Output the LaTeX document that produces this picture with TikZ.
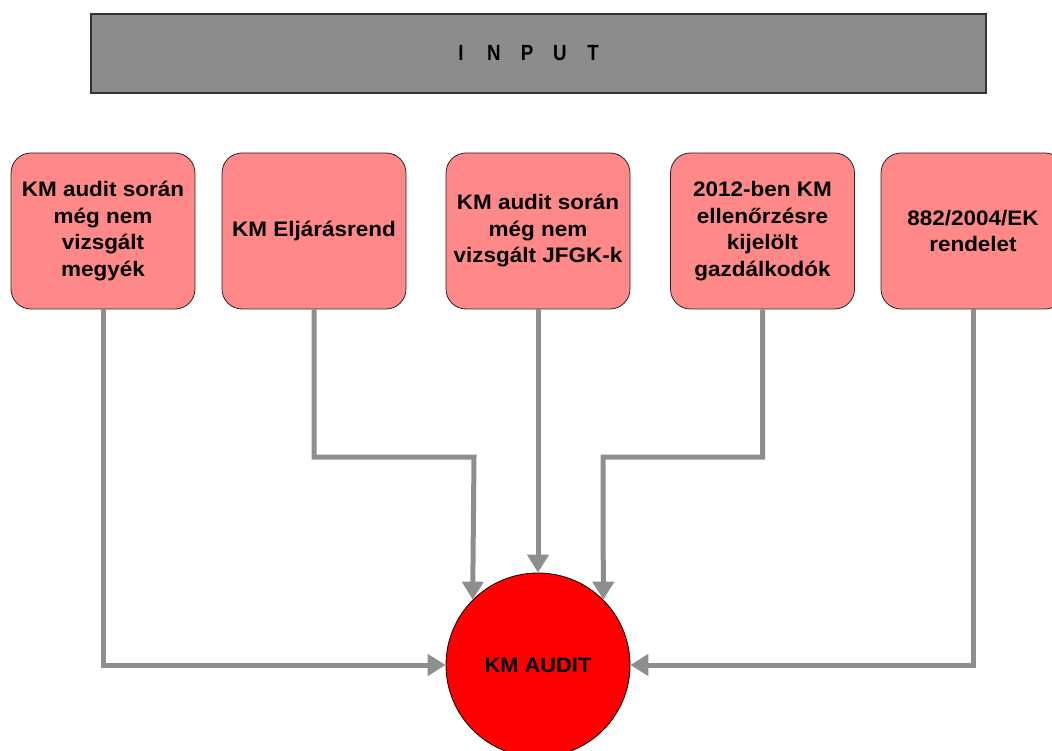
\documentclass[tikz,border=0pt]{standalone}
\usepackage{fontspec}
\setmainfont{Liberation Sans}
\newfontfamily\boxfont[FakeStretch=1.07]{Liberation Sans}
\newfontfamily\audfont[FakeStretch=1.04]{Liberation Sans}
\newfontfamily\inputfont[FakeStretch=0.85]{Liberation Sans}
\usetikzlibrary{arrows.meta}
\definecolor{bargray}{HTML}{8C8C8C}
\definecolor{arrgray}{HTML}{8E8E8E}
\definecolor{boxpink}{HTML}{FF8888}
\definecolor{audred}{HTML}{FF0000}
\tikzset{
  inbox/.style={draw=black!85, line width=0.8pt, fill=boxpink, rounded corners=20pt,
    minimum width=184pt, minimum height=156pt, inner sep=0pt,
    font=\boxfont\bfseries\fontsize{21}{26.5}\selectfont, align=center, text=black},
  conn/.style={draw=arrgray, line width=5pt, -{Triangle[length=18pt,width=21pt]}}
}
\begin{document}
\begin{tikzpicture}[x=1pt,y=1pt]
\useasboundingbox (0,0) rectangle (1052,-751);
\node[draw=black!80, line width=1.2pt, fill=bargray, minimum width=895pt, minimum height=79pt, inner sep=0pt] (input) at (538.5,-53.5) {};
\node[inner sep=0pt, font=\inputfont\bfseries\fontsize{22}{24}\selectfont] (inputlabel) at (527,-53.5)
  {\makebox[33pt]{I}\makebox[33pt]{N}\makebox[33pt]{P}\makebox[33pt]{U}\makebox[33pt]{T}};
\node[inbox] (b1) at (103,-231) {KM audit során\\még nem\\vizsgált\\megyék};
\node[inbox] (b2) at (314,-231) {KM Eljárásrend};
\node[inbox] (b3) at (538,-231) {KM audit során\\még nem\\vizsgált JFGK-k};
\node[inbox] (b4) at (762.5,-231) {2012-ben KM\\ellenőrzésre\\kijelölt\\gazdálkodók};
\node[inbox] (b5) at (973,-231) {882/2004/EK\\rendelet};
\node[circle, draw=black, line width=0.8pt, fill=audred, minimum size=184pt, inner sep=0pt,
  font=\audfont\bfseries\fontsize{21}{25}\selectfont] (audit) at (538,-665) {KM AUDIT};
\coordinate (j2) at (474,-457);
\coordinate (j4) at (603,-457);
\draw[conn] (b1.south) |- (audit.west);
\draw[conn] (b2.south) |- (j2) -- (audit.135);
\draw[conn] (b3.south) -- (audit.north);
\draw[conn] (b4.south) |- (j4) -- (audit.45);
\draw[conn] (b5.south) |- (audit.east);
\end{tikzpicture}
\end{document}
